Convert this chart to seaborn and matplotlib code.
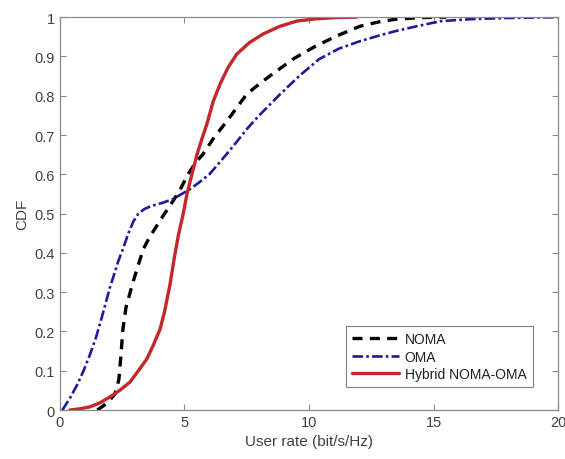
import matplotlib
matplotlib.use("Agg")
import matplotlib.pyplot as plt
import seaborn as sns
import pandas as pd

# --- data ---
noma_x = [1.5, 1.73, 2.0, 2.2, 2.3, 2.37, 2.45, 2.53, 2.65, 2.89, 3.1, 3.35, 3.6, 3.9, 4.15, 4.42,
          4.82, 5.14, 5.45, 5.74, 6.2, 6.7, 7.1, 7.5, 8.1, 8.7, 9.4, 10.2, 11.1, 12.05, 12.8, 13.5, 14.5, 15.5]
noma_y = [0.0, 0.01, 0.025, 0.04, 0.06, 0.079, 0.14, 0.206, 0.26, 0.316, 0.36, 0.41, 0.44, 0.47, 0.495, 0.52,
          0.56, 0.60, 0.63, 0.651, 0.695, 0.735, 0.77, 0.804, 0.835, 0.863, 0.895, 0.924, 0.952, 0.977, 0.988, 0.995, 0.999, 1.0]

oma_x = [0.1, 0.4, 0.7, 0.95, 1.2, 1.45, 1.7, 2.0, 2.2, 2.35, 2.53, 2.75, 2.95, 3.15, 3.4, 3.7, 4.1, 4.54, 5.22, 5.6,
         6.0, 6.5, 7.0, 7.5, 8.0, 8.84, 9.6, 10.4, 11.2, 12.05, 12.8, 13.5, 14.4, 15.3, 16.5, 18.0, 20.0]
oma_y = [0.0, 0.03, 0.065, 0.10, 0.14, 0.185, 0.24, 0.31, 0.35, 0.38, 0.41, 0.45, 0.48, 0.50, 0.512, 0.52, 0.527, 0.537, 0.562, 0.58,
         0.60, 0.637, 0.675, 0.715, 0.75, 0.804, 0.85, 0.893, 0.92, 0.939, 0.953, 0.965, 0.978, 0.99, 0.995, 0.998, 1.0]

hyb_x = [0.4, 0.8, 1.2, 1.6, 2.0, 2.4, 2.81, 3.15, 3.49, 3.75, 4.02, 4.2, 4.42, 4.6, 4.74, 4.95, 5.1, 5.3, 5.5,
         5.7, 5.9, 6.15, 6.43, 6.75, 7.1, 7.6, 8.15, 8.8, 9.5, 10.3, 11.1, 11.9]
hyb_y = [0.0, 0.003, 0.008, 0.018, 0.033, 0.05, 0.071, 0.10, 0.13, 0.165, 0.206, 0.25, 0.32, 0.39, 0.44, 0.50, 0.55, 0.60, 0.65,
         0.69, 0.728, 0.785, 0.83, 0.872, 0.906, 0.935, 0.957, 0.976, 0.99, 0.996, 0.999, 1.0]

series_names = ["NOMA", "OMA", "Hybrid NOMA-OMA"]
x_ticks = [0, 5, 10, 15, 20]
y_ticks = [0, 0.1, 0.2, 0.3, 0.4, 0.5, 0.6, 0.7, 0.8, 0.9, 1]
y_tick_labels = ["0", "0.1", "0.2", "0.3", "0.4", "0.5", "0.6", "0.7", "0.8", "0.9", "1"]
x_label = "User rate (bit/s/Hz)"
y_label = "CDF"

sns.set_style("white")
plt.rcParams["font.family"] = ["Liberation Sans", "DejaVu Sans"]

fig = plt.figure(figsize=(5.65, 4.6), dpi=100)
ax = fig.add_axes([0.106, 0.1065, 0.882, 0.854])

df_noma = pd.DataFrame({"x": noma_x, "y": noma_y})
df_oma = pd.DataFrame({"x": oma_x, "y": oma_y})
df_hyb = pd.DataFrame({"x": hyb_x, "y": hyb_y})

sns.lineplot(data=df_noma, x="x", y="y", ax=ax, sort=False, color="black",
             linewidth=2.4, linestyle=(0, (3, 2.2)), label=series_names[0])
sns.lineplot(data=df_oma, x="x", y="y", ax=ax, sort=False, color="#1c1c9a",
             linewidth=1.9, linestyle=(0, (4, 1.2, 1, 1.2)), label=series_names[1])
sns.lineplot(data=df_hyb, x="x", y="y", ax=ax, sort=False, color="#c4262b",
             linewidth=2.4, linestyle="-", label=series_names[2])

ax.set_xlim(0, 20)
ax.set_ylim(0, 1)
ax.set_xticks(x_ticks)
ax.set_xticklabels([str(t) for t in x_ticks])
ax.set_yticks(y_ticks)
ax.set_yticklabels(y_tick_labels)
ax.set_xlabel(x_label, fontsize=11, color="#404040")
ax.set_ylabel(y_label, fontsize=11, color="#404040")

for s in ax.spines.values():
    s.set_visible(True)
    s.set_color("#8a8a8a")
    s.set_linewidth(0.9)
ax.tick_params(direction="in", length=4, width=0.8, color="#8a8a8a",
               labelsize=10.5, labelcolor="#404040", top=True, right=True,
               bottom=True, left=True)

leg = ax.legend(loc="lower right", bbox_to_anchor=(0.949, 0.058), frameon=True,
                fancybox=False, fontsize=10, handlelength=3.4, borderpad=0.45,
                labelspacing=0.25, handletextpad=0.4, borderaxespad=0)
leg.get_frame().set_edgecolor("#606060")
leg.get_frame().set_linewidth(0.8)
for t in leg.get_texts():
    t.set_color("#202020")

fig.savefig("out.png", dpi=100)
